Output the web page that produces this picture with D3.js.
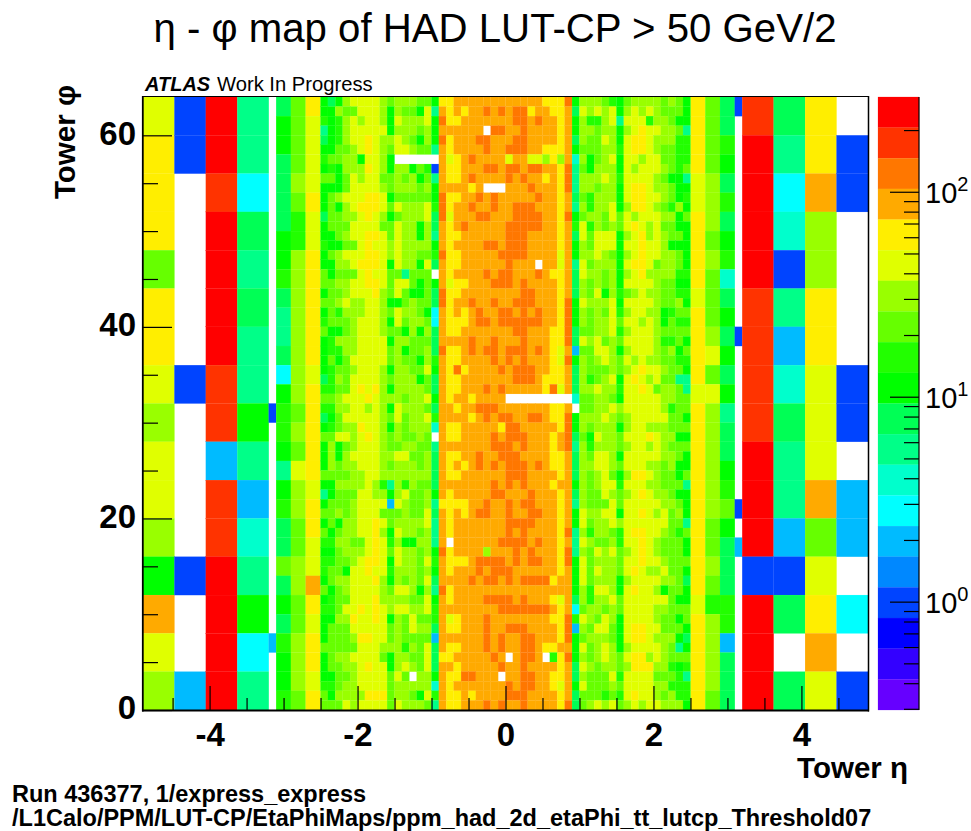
<!DOCTYPE html>
<html><head><meta charset="utf-8">
<script src="https://cdn.jsdelivr.net/npm/d3@7"></script>
<style>
html,body{margin:0;padding:0;background:#fff}
svg{display:block}
text{font-family:"Liberation Sans",Arial,sans-serif;fill:#000}
</style></head><body><div id="c"></div>
<script>
// Colour bands of the palette, top (highest count) to bottom; "." in the data = empty bin.
const bandLetters = "ABCDEFGHIJKLMNOPQRST".split("");
const bandColors = ["#ff0000","#ff3300","#ff7700","#ffaa00","#ffee00","#e0ff00","#99ff00","#66ff00","#22ff00","#00ff00","#00ff55","#00ff88","#00ffcc","#00ffff","#00bbff","#0088ff","#0044ff","#0000ff","#3300ff","#6600ff"];

// Eta bin edges
const etaForwardNeg = [-4.9,-4.475,-4.05,-3.625,-3.2];
const etaEndcapNeg = [-3.2,-3.1,-2.9,-2.7,-2.5];
const etaCentral = [-2.5,-2.4,-2.3,-2.2,-2.1,-2.0,-1.9,-1.8,-1.7,-1.6,-1.5,-1.4,-1.3,-1.2,-1.1,-1.0,-0.9,-0.8,-0.7,-0.6,-0.5,-0.4,-0.3,-0.2,-0.1,0,0.1,0.2,0.3,0.4,0.5,0.6,0.7,0.8,0.9,1.0,1.1,1.2,1.3,1.4,1.5,1.6,1.7,1.8,1.9,2.0,2.1,2.2,2.3,2.4,2.5];
const etaEndcapPos = [2.5,2.7,2.9,3.1,3.2];
const etaForwardPos = [3.2,3.625,4.05,4.475,4.9];

// Forward columns: 16 phi bins, top (phi 60-64) to bottom (phi 0-4)
const forwardNeg = ["FEEEHEEFGFFGJDFG","QQ.....Q....Q..O","AABAAAABBOBBAAAA","LLNKLKLLJLOMLJNL"];
const forwardPos = ["BAAAABBBBAAAQAAA","KLNMQLOMKLLOQK.K","EEDGGEEFFFDHFEDF",".QQ....QQ.OO.N.Q"];

// Endcap columns: 32 phi bins, top (phi 62-64) to bottom (phi 0-2)
const endcapNeg = [
  "................Q...........O...",
  "KJJKKKKJJIKLLKNJIIJLJIKKHKJKIJJI",
  "HHHHGHIIGGGGGGGGHGHFGGHHGGHHGGGH",
  "EFFFFEFFEEEEEEFEEEEEFEEFFDEFEEFE"];
const endcapPos = [
  "EEEEFFEEEEFEEEEFEEEEEEEEEEFEEEEE",
  "HHHHGGGHGHHHGFHFGGGGGGHHGHIGGGGH",
  "KKIJKIKJIMKJKJKJLKKJIHJKKKIIOKKK",
  "Q...........Q........Q.O........"+"."];

// Central |eta|<2.5: 64 phi bins, rows top (phi 63) to bottom (phi 0)
const leftRows = ["JKJGFFFFGHGGGHHJ","JJGHHFFFGJGHHJFL","IJIGFGFFGJFGGGFJ","LJIGFFFFFJGGGHGJ","KJIGFFEFGGFGHJGJ","JJHHGFEFGHFFGHHL","IHHGGJFFGJ......","JIJGGGEFGJGGJHIQ","HHJHFGFFHHGHGJHL","JJJHFFFFGHGGGHGJ","JHGFFFEEFJHHHHHJ","JHJGFEEEFHFGGGFI","KHHGGFEFGJHGGGFK","JHHHFFFFHHFGGJGK","JJHGFFEEFHFGGJGL","IJJHHFEFFGFGGGGJ","JHGFFFEEFGFGGHHI","JJGGFEEEFJFGGJFK","HJHHHFEFFHHLHHH.","HHGGFFEEFHFFHJHJ","JHHGFFFEGHFHJJHK","HHGFGGFFGJJHGHHK","JHIGGGFFGHFGGHJN","IHHHGFFFGJFHGGHN","HJJHGFFFGHHJGJGK","JIGGGFFFFJGGHHHK","JIIGGFFFFHGJHHGK","JHJHFFFFFHGHHJGI","JIHHGFFFGJGGHHFJ","KIGHFFFFGHGGGJHK","IIHHFEFEGJGGGGHK","HHGFFFEFGGGHGGFJ","IIGGFFGFGJFGGGHK","KJHFFFFFGHFHGGFI","JIHGGEFFGJGHGGGM","HHFFGFEFGHGHHGH.","JGJHGFFFGHHGGHHL","JGJGFFFFGGFFHHGK","JGHGGFFFGHGGGHGK","HHHHGGFFGGGGGGGK","JJGGGGFGILGIGHHK","LJHHHFFGGJGFHHGJ","JHHHGFFFFOFGHHGL","HHGHGFFFHHHGHHFK","JHJGGFFEFHGGGGFL","HJHGGFFEGJFGGHGL","IIGGHHFEFIGJJGGL","JJHGGGFEFHFGGHGJ","IIHHGFEEFJFGGHFI","IHHJFFEFFIGGGHGJ","JHGGFFFEGJGHGHFK","HJHGFFFFGHFFGJGL","JIHHFFFEGGGGHHFJ","IIHFFEFEFGFFGGFI","JJGGEFFEFJGHFHHI","JHHHFFFFFHGHFGGK","JHHHGEEFFHGHHHHO","HHHHHFFFGGGIGHFK","JHGGFFFFHJGGHHFK","JHHGGFEFFJGFGHFK","JJHHGFFFFHFH.GGJ","IIHGGFFFFHGGGGGM","HJGGGGEEEHGGHJFI","HHHFGFFFFHFGGGHL"];
const midRows = ["EEDDDDDDDDDDDDEEEC","DEDEDDCDCDCCEDDEED","CEEDDDDDDDCCDCDDED","DDDDDD.CCDDCDDDDED","CEDDDCCDDDCCDDDDED","DEDDDDCDDCCCDDEEED","DFEDCDDDDFDDFFGEGD","DEEDDDCCDCCDCCDDEC","DEEDCDDDDCDCDDEDEC","DDDDED...DDDCDDDEC","CEEDDCDCDDDDDCDDED","CEDDCDDCDDCCCDDDED","CFDDDCCDDDCCCCDDEC","DEDCDDDDDCCCCCDDED","DEEDDDDDDCCCDDDDED","DEDDDDCCDCCCDDDDED","CEEDDDDDCCCCDDDDFD","DEEDDDDDDCDDD.DDFD","DEDDDDCDCCDDDCDEED","DFEEDDDCCCDCDDDDED","CEEDDDDDDDDCCDDDED","CEDDCDDCDDCCCDDDEC","DEDEDCDDCCDCDCDDEC","DEEEDCCDCCCCCCDDEC","DEEDDDDDDDCCDDDEEC","DDDDCDDCDDDCDDDEEC","CEEDCDCCDCCCDCDEFD","DEEDDDDCDCDCDDDEFC","DECEDDDDCDCCCDDEED","DEEDDDDDDDCCCDEEED","DEEDDDCDCDDDDDECFD","DEDDEDDDD.........","DDEDDCCCDDDDDDDEED","DDDDEDCDCCDDCCDEEC","DEEDDDDDECCDDDDDEC","DEEDDDDCDCCCDDDEDC","DDDDDDDCCCDCDDDEDC","DEEDDCDDCCCDDDDEED","DEDEDCDCDCCCDCDEED","DEEDDDDDDCCCDDDDED","DDDDDDDCDCDCDDDEDD","DEDDDDDCCDDDCDDDED","EEEEDDCDDCDCCDDDED","DEDEDCCDDCDDCCDDED","DEDDDDDDDCCCCDDDED","DEDDDDDDDCDCDDDDEC","D.DDDDDDCCCCDCDDED","CEDDDDGDDDCDCDDDEC","DEEEDCCCCDCDCCDDEC","DEDDDCDCCCDDDDDDED","DDDDCDCCDCDCCCCEDD","CEDDDDDDDDDDDDDDDD","DEDDDDCCCCDCDDDEFD","DDDDDDDDCCCCCCCDED","DFEDDDCDDDDDDDDEEC","DEEDDDCDDCCCDDDDEC","DDDDDDCDCDDCCDDDEC","DEEDDDCDCDDCCDEEDD","EEDDDDDCD.DCCD.IEC","DDEDDDDDCDDCDDDDED","DEECCDDD.DDCCDDEED","DEDDDDDDDCDCCDDEFD","DEEDEDDDDCCCDDDDED","DEEDDDCDCDDCDDDDEC"];
const rightRows = ["JGGGHIJHGGGGHGHJ","KFGFGFJGFGFGHHHJ","JGIIGFLFFFIGGHJJ","JGGHGGJGFEFFGGHL","KGHHFGJFEEFGGGII","JHHHGGIFEEFGHHII","MGJHGFJFFGFFHHII","LHJGGGJFGFFFGHIH","LGGGFGIFFFFGHJJL","LGGHGGJFEEFGGHJJ","KHIGGGJFEEFFGHJI","LGIGGFJGEEFGHIGJ","JHGGHFHFGFFFGGJH","IFIGHGHFEFGFHHJJ","KFHFFFJGFEGFGHHJ","JGHFFFJFFEFFGJJJ","JGGFGHJGFEFFGGHJ","LFHGGGJFEEFHGGHJ","KFGGHGJGFEGGGGII","KGHGHGJFFFFGHHJJ","KGHFJGIHGFGGHHII","JFGGGFJFFFFGHHGJ","JGHGHFIGFFGGJIHH","JGHGGFHFFGFGJHII","KHHGGFIGFFFGHHHH","KFGFHGHFFFFGIIHJ","OHHFFGJGFFFGHGJH","JGHGFGHFGFGGHHII","KGHHHGHGFEFFGHHJ","KGIHGFJFEFGFHHLL","KGGFGGIFFEFHGGHL","MHHGGHJFFFFFGGHH",".HHGGFGFFFFFGIHH","JGGGFGHGFFFFFHHJ","JGHGGGJGFFGGGHHH","KHJFGGHFFFEFGGJJ","LGIGGGHGFFGFGHHH","KGHFFGJFFFFFGGHJ","KGGFFGHFFFGGHGJJ","KGHGFHJGEEFGHHJH","JGHGFFIFFFGGHHHL","KGHHFGHGFEFGGHJJ","LGHHHFHFFFFFGGHJ","JFGGFFJFFEFGFHGJ","JFHGGFGFFFFFFHHL","LGIGGHIFEEFFGHIH","LFGHHGIFFEFGHHHJ","LGHFGFHGFEFGHHHJ","JFHGGGHFFEFFGHHH","JFHFGGHFEFGGFHHJ","JFHGGGJGFFFFGGHK","JGIFFGJFEFFGJHHJ","KGIGGFHFFFFFFHJJ","NHGGHGHFFFFGGHHH","IFGHFGJFFFFGHHJH","OGHFFHJFEEFFHHHJ","JHGGGHJFEEFGGGJK","JFHGFGJGFFFFGHLJ","JGHGFGHFEEGFGHHH","KFGHGGHGEEEGGIJI","KGHHHFIFFFFHHHIL","JFHHHGHFFFFGGIII","KHHHIHIFEFFGHGII","KHGFGFHGFGFFGGGJ"];

// Axis ticks
const etaMajor = [-4,-2,0,2,4];
const etaMinor = [-4.5,-3.5,-3,-2.5,-1.5,-1,-0.5,0.5,1,1.5,2.5,3,3.5,4.5];
const phiMajor = [0,20,40,60];
const phiMinor = [5,10,15,25,30,35,45,50,55];
const zMajor = [1,10,100];
const zMinor = [0.3,0.4,0.5,0.6,0.7,0.8,0.9,2,3,4,5,6,7,8,9,20,30,40,50,60,70,80,90,200];
const zExponent = {1:"0",10:"1",100:"2"};

const W=971,H=831, L=143,R=868,T=97,B=710, CL=878,CR=919;
const x=d3.scaleLinear().domain([-4.9,4.9]).range([L,R]);
const y=d3.scaleLinear().domain([0,64]).range([B,T]);
const z=d3.scaleLog().domain([0.296,290]).range([B,T]);
const colour=d3.scaleOrdinal().domain(bandLetters).range(bandColors);
const bandY=d3.scaleBand().domain(bandLetters).range([T,B]);

const svg=d3.select("#c").append("svg").attr("width",W).attr("height",H);
const cells=[];
function addColumn(x0,x1,str,span){
  for(let i=0;i<str.length;i++){
    const k=str[i]; if(k===".") continue;
    const hi=64-i*span;
    cells.push({x0,x1,y0:hi-span,y1:hi,k});
  }
}
forwardNeg.forEach((s,i)=>addColumn(etaForwardNeg[i],etaForwardNeg[i+1],s,4));
endcapNeg.forEach((s,i)=>addColumn(etaEndcapNeg[i],etaEndcapNeg[i+1],s,2));
endcapPos.forEach((s,i)=>addColumn(etaEndcapPos[i],etaEndcapPos[i+1],s,2));
forwardPos.forEach((s,i)=>addColumn(etaForwardPos[i],etaForwardPos[i+1],s,4));
for(let r=0;r<64;r++){
  const row=leftRows[r]+midRows[r]+rightRows[r];
  for(let c=0;c<row.length;c++){
    const k=row[c]; if(k===".") continue;
    cells.push({x0:etaCentral[c],x1:etaCentral[c+1],y0:63-r,y1:64-r,k});
  }
}
svg.append("g").selectAll("rect").data(cells).join("rect")
  .attr("x",d=>x(d.x0)).attr("width",d=>x(d.x1)-x(d.x0))
  .attr("y",d=>y(d.y1)).attr("height",d=>y(d.y0)-y(d.y1))
  .attr("fill",d=>colour(d.k)).attr("stroke",d=>colour(d.k)).attr("stroke-width",0.2);

// colour bar
svg.append("g").selectAll("rect").data(bandLetters).join("rect")
  .attr("x",CL).attr("width",CR-CL).attr("y",d=>bandY(d)).attr("height",bandY.bandwidth())
  .attr("fill",d=>colour(d)).attr("stroke",d=>colour(d)).attr("stroke-width",0.2);

function style(g,w){g.selectAll("path.domain").remove();g.selectAll("line").attr("stroke","#000").attr("stroke-width",w);}

// x axis
const gx=svg.append("g").attr("transform",`translate(0,${B})`);
gx.append("g").call(d3.axisBottom(x).tickValues(etaMinor).tickSize(-12).tickFormat("")).call(g=>style(g,1.2));
const gxM=gx.append("g").call(d3.axisBottom(x).tickValues(etaMajor).tickSize(-24).tickPadding(13).tickFormat(d3.format("d")));
style(gxM,1.2);
gxM.selectAll("text").text(d=>String(d)).attr("font-size",33).attr("font-weight","bold").style("font-family",'"Liberation Sans"').attr("fill","#000");

// y axis
const gy=svg.append("g").attr("transform",`translate(${L},0)`);
gy.append("g").call(d3.axisLeft(y).tickValues(phiMinor).tickSize(-15).tickFormat("")).call(g=>style(g,1.2));
const gyM=gy.append("g").call(d3.axisLeft(y).tickValues(phiMajor).tickSize(-29).tickPadding(7));
style(gyM,1.2);
gyM.selectAll("text").attr("font-size",33).attr("font-weight","bold").style("font-family",'"Liberation Sans"').attr("fill","#000").attr("dy","0.27em");

// z axis
const gz=svg.append("g").attr("transform",`translate(${CR},0)`);
gz.append("g").call(d3.axisRight(z).tickValues(zMinor).tickSize(-15).tickFormat("")).call(g=>style(g,1.2));
const gzM=gz.append("g").call(d3.axisRight(z).tickValues(zMajor).tickSize(-29).tickPadding(6).tickFormat(()=>"10"));
style(gzM,1.2);
gzM.selectAll("text").attr("font-size",29).style("font-family",'"Liberation Sans"').attr("fill","#000").attr("dy","0.36em")
  .append("tspan").attr("font-size",20).attr("dy","-0.6em").text(d=>zExponent[d]);

// frames
const frame=(x1,y1,x2,y2,w)=>svg.append("line").attr("x1",x1).attr("y1",y1).attr("x2",x2).attr("y2",y2).attr("stroke","#000").attr("stroke-width",w);
frame(L,T-0.5,R+1,T-0.5,1);
frame(L-0.2,T-1,L-0.2,B+1.5,1.8);
frame(L-1,B+0.5,R+1,B+0.5,2);
frame(R+0.5,T-1,R+0.5,B+1.5,1.5);
frame(CR,T,CR,B,1.2);

// texts
const txt=(s,xp,yp,size,opt={})=>{const t=svg.append("text").attr("x",xp).attr("y",yp).attr("font-size",size).text(s);
  if(opt.bold)t.attr("font-weight","bold"); if(opt.italic)t.attr("font-style","italic"); if(opt.anchor)t.attr("text-anchor",opt.anchor); if(opt.rot)t.attr("transform",`rotate(-90 ${xp} ${yp})`); return t;};
txt("η - φ map of HAD LUT-CP > 50 GeV/2",495,42,40.2,{anchor:"middle"});
txt("ATLAS",145,91,20,{bold:true,italic:true});
txt("Work In Progress",217,91,20.2);
txt("Tower η",908,778,29.5,{bold:true,anchor:"end"});
txt("Tower φ",75,85,29.5,{bold:true,anchor:"end",rot:true});
txt("Run 436377, 1/express_express",12,802,23.5,{bold:true});
txt("/L1Calo/PPM/LUT-CP/EtaPhiMaps/ppm_had_2d_etaPhi_tt_lutcp_Threshold07",12,826,23.5,{bold:true});
</script></body></html>
